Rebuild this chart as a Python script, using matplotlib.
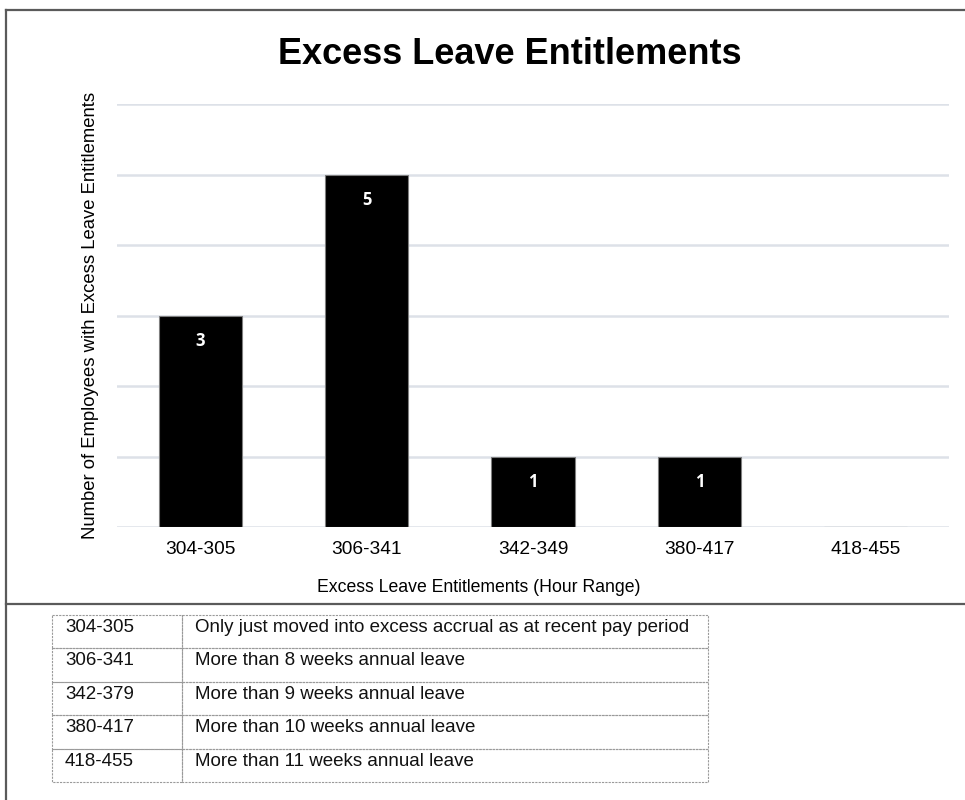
import matplotlib
matplotlib.use("Agg")
import matplotlib.pyplot as plt
from matplotlib.patches import Rectangle
from matplotlib.lines import Line2D

# Chart data
ranges = ["304-305", "306-341", "342-349", "380-417", "418-455"]
employees = [3, 5, 1, 1, 0]

# Key table underneath the chart
table_ranges = ["304-305", "306-341", "342-379", "380-417", "418-455"]
table_desc = [
    "Only just moved into excess accrual as at recent pay period",
    "More than 8 weeks annual leave",
    "More than 9 weeks annual leave",
    "More than 10 weeks annual leave",
    "More than 11 weeks annual leave",
]

plt.rcParams["font.family"] = ["Liberation Sans", "DejaVu Sans"]

W, H = 965, 800
fig = plt.figure(figsize=(W / 100, H / 100), dpi=100)

# chart area
ax = fig.add_axes([117 / W, 1 - 527 / H, 832 / W, 423 / H])
x = range(len(ranges))
bars = ax.bar(x, employees, width=0.5, color="black", edgecolor="#7f7f7f",
              linewidth=0.8, zorder=3)
ax.set_xlim(-0.5, len(ranges) - 0.5)
ax.set_ylim(0, 6)
ax.set_yticks(range(0, 7))
ax.yaxis.grid(True, color="#dde1e8", linewidth=1.8, zorder=0)
ax.tick_params(axis="y", length=0, labelleft=False)
ax.tick_params(axis="x", length=0, pad=10, labelsize=13.8)
ax.set_xticks(list(x))
ax.set_xticklabels(ranges)
for s in ax.spines.values():
    s.set_visible(False)

for b, v in zip(bars, employees):
    if v > 0:
        ax.annotate(str(v), (b.get_x() + b.get_width() / 2, v),
                    xytext=(0, -12), textcoords="offset points",
                    ha="center", va="top", color="white", fontsize=12,
                    fontweight="bold", family=["Open Sans", "DejaVu Sans"])

ax.set_xlabel("Excess Leave Entitlements (Hour Range)", fontsize=12.7)
ax.xaxis.set_label_coords(0.435, -0.122)
ax.set_ylabel("Number of Employees with Excess Leave Entitlements", fontsize=13.3)
ax.yaxis.set_label_coords(-0.022, 0.5)

fig.text(510 / W, 1 - 55 / H, "Excess Leave Entitlements", ha="center",
         va="center", fontsize=26, fontweight="bold")

# overlay in pixel coordinates for the frame and the key table
ov = fig.add_axes([0, 0, 1, 1], zorder=-1)
ov.set_xlim(0, W)
ov.set_ylim(H, 0)
ov.axis("off")

frame = dict(color="#5a5a5a", linewidth=1.6)
ov.add_line(Line2D([5.5, 5.5], [10, H], **frame))
ov.add_line(Line2D([5.5, W], [10, 10], **frame))
ov.add_line(Line2D([5.5, W], [603.5, 603.5], **frame))

tx0, tx1, tcol = 52, 708, 182
ty0, row_h = 615, 33.4
cell = dict(fill=False, edgecolor="#9a9a9a", linewidth=0.8, linestyle=(0, (2, 1)))
for i, (r, d) in enumerate(zip(table_ranges, table_desc)):
    y = ty0 + i * row_h
    ov.add_patch(Rectangle((tx0, y), tcol - tx0, row_h, **cell))
    ov.add_patch(Rectangle((tcol, y), tx1 - tcol, row_h, **cell))
    ov.text(65, y + 12.5, r, fontsize=13.5, va="center", ha="left", color="#111111")
    ov.text(195, y + 12.5, d, fontsize=13.5, va="center", ha="left", color="#111111")

fig.savefig("out.png", dpi=100, facecolor="white")
